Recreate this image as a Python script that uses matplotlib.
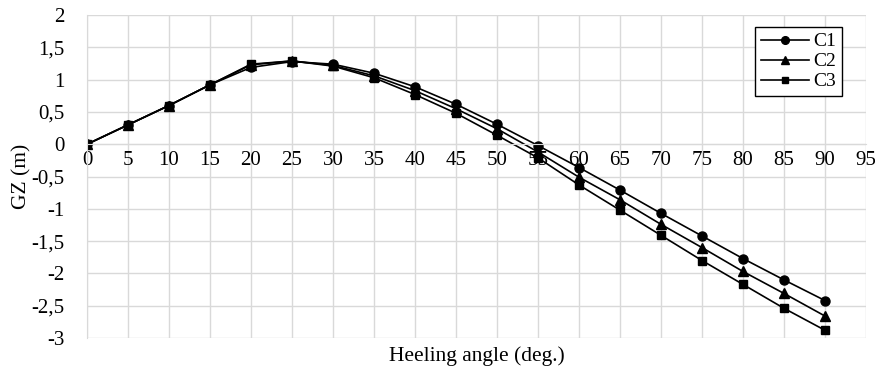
import matplotlib.pyplot as plt

angles = [0, 5, 10, 15, 20, 25, 30, 35, 40, 45, 50, 55, 60, 65, 70, 75, 80, 85, 90]
c1 = [0, 0.30, 0.60, 0.92, 1.19, 1.28, 1.24, 1.10, 0.89, 0.62, 0.31, -0.02, -0.36,
      -0.71, -1.07, -1.42, -1.77, -2.10, -2.42]
c2 = [0, 0.30, 0.60, 0.92, 1.23, 1.29, 1.22, 1.06, 0.83, 0.55, 0.24, -0.12, -0.51,
      -0.86, -1.24, -1.60, -1.97, -2.31, -2.66]
c3 = [0, 0.30, 0.60, 0.92, 1.24, 1.29, 1.21, 1.03, 0.77, 0.48, 0.14, -0.21, -0.63,
      -1.02, -1.41, -1.80, -2.17, -2.54, -2.88]

plt.rcParams['font.family'] = ['Liberation Serif', 'DejaVu Serif']

fig = plt.figure(figsize=(8.75, 3.68), dpi=100)
ax = fig.add_axes([0.0994, 0.0815, 0.8903, 0.8775])

ax.plot(angles, c1, color='black', lw=1.2, marker='o', ms=6.5, label='C1')
ax.plot(angles, c2, color='black', lw=1.2, marker='^', ms=7, label='C2')
ax.plot(angles, c3, color='black', lw=1.2, marker='s', ms=5.5, label='C3')

ax.set_xlim(0, 95)
ax.set_ylim(-3, 2)
ax.set_xticks(range(0, 96, 5))
yt = [2, 1.5, 1, 0.5, 0, -0.5, -1, -1.5, -2, -2.5, -3]
ax.set_yticks(yt)
ax.set_yticklabels([('%g' % v).replace('.', ',') for v in yt])

ax.grid(True, color='#d9d9d9', lw=1)
ax.set_axisbelow(True)
for s in ['top', 'right']:
    ax.spines[s].set_visible(False)
ax.spines['left'].set_color('#d9d9d9')
ax.spines['bottom'].set_position(('data', 0))
ax.spines['bottom'].set_color('#d9d9d9')
ax.tick_params(axis='both', length=0, labelsize=15)
ax.tick_params(axis='x', pad=5)
ax.tick_params(axis='y', pad=16)

ax.set_xlabel('Heeling angle (deg.)', fontsize=15.5)
ax.xaxis.label.set_va('center')
ax.xaxis.set_label_coords(0.5, -0.055)
ax.set_ylabel('GZ (m)', fontsize=15.5)
ax.yaxis.label.set_va('center')
ax.yaxis.set_label_coords(-0.084, 0.5)

leg = ax.legend(loc='upper right', bbox_to_anchor=(0.969, 0.963), fontsize=14,
                frameon=True, fancybox=False, edgecolor='black',
                handlelength=2.5, handletextpad=0.2, borderpad=0.3,
                labelspacing=0.12, borderaxespad=0, markerscale=0.85)
leg.get_frame().set_linewidth(1)
leg.get_frame().set_alpha(1)

fig.savefig('out.png', dpi=100)
